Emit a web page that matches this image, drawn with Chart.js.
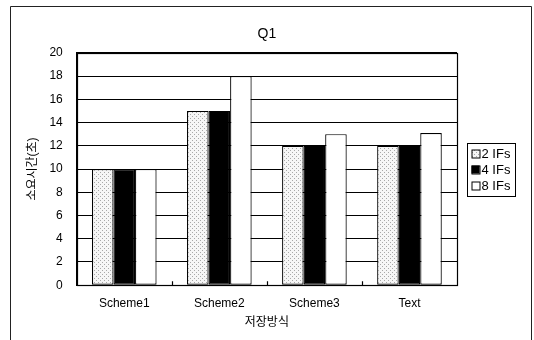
<!DOCTYPE html>
<html>
<head>
<meta charset="utf-8">
<script src="https://cdn.jsdelivr.net/npm/chart.js@4.4.1/dist/chart.umd.min.js"></script>
<style>
html,body{margin:0;padding:0;background:#fff;}
#wrap{width:534px;height:340px;position:relative;}
</style>
</head>
<body>
<div id="wrap"><canvas id="c" width="534" height="340"></canvas></div>
<script>
const categories = ['Scheme1', 'Scheme2', 'Scheme3', 'Text'];
const seriesLabels = ['2 IFs', '4 IFs', '8 IFs'];
const ifs2 = [10, 15, 12, 12];
const ifs4 = [10, 15, 12, 12];
const ifs8 = [10, 18, 13, 13.1];
const yTicksMin = 0, yTicksMax = 20, yTickStep = 2;

const FONT = "'Liberation Sans', Arial, 'Noto Sans CJK KR', sans-serif";

function makeStipple() {
  const t = document.createElement('canvas');
  t.width = 4; t.height = 4;
  const g = t.getContext('2d');
  g.fillStyle = '#f6f6f6';
  g.fillRect(0, 0, 4, 4);
  g.fillStyle = '#a8a8a8';
  g.fillRect(0, 0, 1, 1);
  g.fillRect(2, 2, 1, 1);
  return document.getElementById('c').getContext('2d').createPattern(t, 'repeat');
}
const stipple = makeStipple();

const framePlugin = {
  id: 'framePlugin',
  beforeDraw(chart) {
    const ctx = chart.ctx;
    ctx.save();
    ctx.fillStyle = '#fff';
    ctx.fillRect(0, 0, chart.width, chart.height);
    ctx.strokeStyle = '#222';
    ctx.lineWidth = 1;
    ctx.beginPath();
    ctx.moveTo(10.5, 345);
    ctx.lineTo(10.5, 6.5);
    ctx.lineTo(531.5, 6.5);
    ctx.lineTo(531.5, 345);
    ctx.stroke();
    ctx.restore();
  },
  afterDraw(chart) {
    const ctx = chart.ctx;
    const a = chart.chartArea;
    ctx.save();
    ctx.strokeStyle = '#000';
    ctx.lineWidth = 1.2;
    ctx.strokeRect(Math.round(a.left) + 0.5, Math.round(a.top) + 0.5,
      Math.round(a.right - a.left), Math.round(a.bottom - a.top));
    // inward x tick marks at category boundaries
    const n = categories.length;
    const w = (a.right - a.left) / n;
    ctx.beginPath();
    for (let i = 1; i < n; i++) {
      const x = Math.round(a.left + i * w) + 0.5;
      ctx.moveTo(x, a.bottom);
      ctx.lineTo(x, a.bottom - 4);
    }
    ctx.stroke();
    // legend
    const ds = chart.data.datasets;
    const bx = Math.round(a.right) + 10.5;
    const bw = 48, bh = 53;
    const cy = (a.top + a.bottom) / 2;
    const by = Math.round(cy - bh / 2) + 0.5;
    ctx.lineWidth = 1;
    ctx.strokeStyle = '#000';
    ctx.strokeRect(bx, by, bw, bh);
    ctx.font = '13px ' + FONT;
    ctx.textBaseline = 'middle';
    ctx.fillStyle = '#000';
    ds.forEach((d, i) => {
      const ry = by + 10 + i * 16;
      ctx.fillStyle = d.backgroundColor;
      ctx.fillRect(bx + 4, ry - 4, 8, 8);
      ctx.strokeRect(bx + 4.5, ry - 4 + 0.5, 8, 8);
      ctx.fillStyle = '#000';
      ctx.fillText(d.label, bx + 14, ry + 1);
    });
    ctx.restore();
  }
};

new Chart(document.getElementById('c'), {
  type: 'bar',
  data: {
    labels: categories,
    datasets: [
      { label: seriesLabels[0], data: ifs2, backgroundColor: stipple },
      { label: seriesLabels[1], data: ifs4, backgroundColor: '#000000' },
      { label: seriesLabels[2], data: ifs8, backgroundColor: '#ffffff' }
    ]
  },
  options: {
    responsive: false,
    animation: false,
    layout: { padding: { left: 25, right: 77, top: 26, bottom: 10 } },
    datasets: {
      bar: {
        borderColor: '#000',
        borderWidth: 1.2,
        borderSkipped: false,
        categoryPercentage: 0.68,
        barPercentage: 1.0
      }
    },
    plugins: {
      legend: { display: false },
      tooltip: { enabled: false },
      title: {
        display: true,
        fullSize: false,
        text: 'Q1',
        color: '#000',
        font: { family: FONT, size: 14, weight: 'normal' },
        padding: { top: 0, bottom: 10 }
      }
    },
    scales: {
      x: {
        grid: { display: false, drawTicks: false },
        border: { display: true, color: '#000', width: 1 },
        ticks: { color: '#000', font: { family: FONT, size: 12 }, padding: 11 },
        title: {
          display: true, text: '저장방식', color: '#000',
          font: { family: FONT, size: 12 }, padding: { top: -6, bottom: 0 }
        }
      },
      y: {
        min: yTicksMin, max: yTicksMax,
        grid: { color: '#000', lineWidth: 1, drawTicks: false },
        border: { display: true, color: '#000', width: 1 },
        ticks: { stepSize: yTickStep, color: '#000', font: { family: FONT, size: 12 }, padding: 14 },
        title: {
          display: true, text: '소요시간(초)', color: '#000',
          font: { family: FONT, size: 12 }, padding: { top: 0, bottom: -4 }
        }
      }
    }
  },
  plugins: [framePlugin]
});
</script>
</body>
</html>
